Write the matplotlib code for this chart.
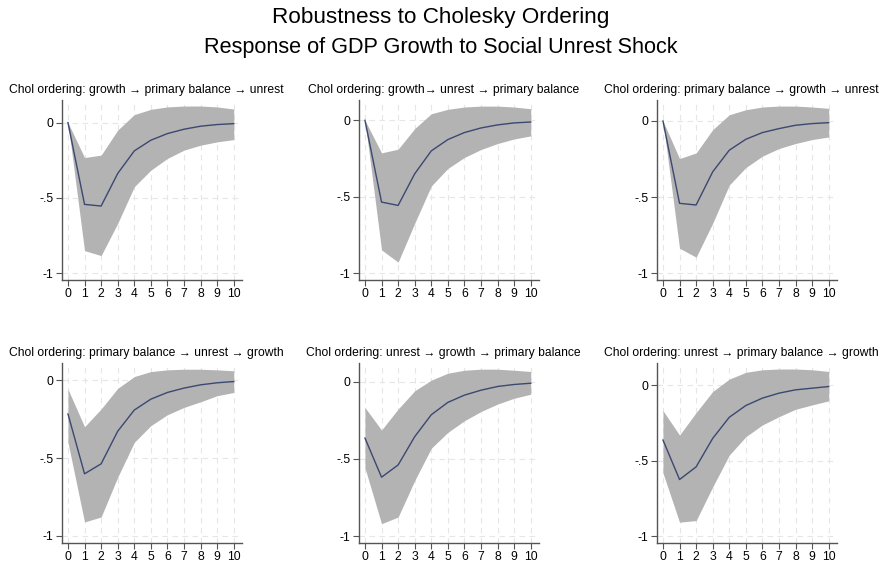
import numpy as np
import matplotlib.pyplot as plt

plt.rcParams['font.family'] = ['Liberation Sans', 'DejaVu Sans']

#%%
# impulse responses, horizons 0..10, point estimate with lower/upper band
steps = np.arange(11)

titles = [
    'Chol ordering: growth \u2192 primary balance \u2192 unrest',
    'Chol ordering: growth\u2192 unrest \u2192 primary balance',
    'Chol ordering: primary balance \u2192 growth \u2192 unrest',
    'Chol ordering: primary balance \u2192 unrest \u2192 growth',
    'Chol ordering: unrest \u2192 growth \u2192 primary balance',
    'Chol ordering: unrest \u2192 primary balance \u2192 growth',
]

irf_1 = [0, -0.543, -0.554, -0.338, -0.188, -0.117, -0.073, -0.044, -0.024, -0.013, -0.007]
lo_1 = [0, -0.850, -0.883, -0.669, -0.426, -0.316, -0.238, -0.183, -0.150, -0.128, -0.113]
hi_1 = [0, -0.232, -0.216, -0.050, 0.053, 0.088, 0.104, 0.110, 0.110, 0.104, 0.090]

irf_2 = [0, -0.535, -0.557, -0.350, -0.200, -0.126, -0.080, -0.050, -0.030, -0.017, -0.011]
lo_2 = [0, -0.848, -0.928, -0.674, -0.430, -0.315, -0.243, -0.191, -0.152, -0.122, -0.102]
hi_2 = [0, -0.213, -0.189, -0.054, 0.043, 0.072, 0.087, 0.093, 0.093, 0.087, 0.076]

irf_3 = [0, -0.541, -0.552, -0.334, -0.192, -0.120, -0.076, -0.050, -0.028, -0.017, -0.011]
lo_3 = [0, -0.836, -0.895, -0.672, -0.421, -0.306, -0.231, -0.181, -0.148, -0.122, -0.105]
hi_3 = [0, -0.247, -0.210, -0.057, 0.041, 0.074, 0.092, 0.098, 0.098, 0.092, 0.083]

irf_4 = [-0.217, -0.601, -0.537, -0.328, -0.192, -0.122, -0.079, -0.051, -0.030, -0.017, -0.009]
lo_4 = [-0.399, -0.910, -0.878, -0.623, -0.399, -0.292, -0.222, -0.175, -0.139, -0.100, -0.079]
hi_4 = [-0.058, -0.299, -0.185, -0.053, 0.023, 0.055, 0.066, 0.070, 0.070, 0.066, 0.060]

irf_5 = [-0.366, -0.619, -0.540, -0.357, -0.215, -0.135, -0.088, -0.056, -0.032, -0.019, -0.011]
lo_5 = [-0.559, -0.920, -0.877, -0.641, -0.432, -0.329, -0.254, -0.194, -0.146, -0.108, -0.082]
hi_5 = [-0.168, -0.314, -0.178, -0.060, 0.009, 0.054, 0.073, 0.080, 0.080, 0.073, 0.065]

irf_6 = [-0.362, -0.624, -0.540, -0.351, -0.211, -0.133, -0.084, -0.051, -0.029, -0.018, -0.007]
lo_6 = [-0.580, -0.907, -0.896, -0.673, -0.462, -0.340, -0.262, -0.207, -0.158, -0.129, -0.102]
hi_6 = [-0.167, -0.329, -0.180, -0.040, 0.042, 0.087, 0.104, 0.109, 0.109, 0.104, 0.093]

irfs = [irf_1, irf_2, irf_3, irf_4, irf_5, irf_6]
los = [lo_1, lo_2, lo_3, lo_4, lo_5, lo_6]
his = [hi_1, hi_2, hi_3, hi_4, hi_5, hi_6]

#%%
W, H = 881, 564
fig = plt.figure(figsize=(W/100, H/100), dpi=100)

# panel boxes in pixels: left, top, width, height
lefts = [62, 359, 657]
tops = [100, 363]
aw, ah = 180, 180

fig.text(0.5, 1-18/H, 'Robustness to Cholesky Ordering', ha='center', va='center', fontsize=16.2)
fig.text(0.5, 1-47/H, 'Response of GDP Growth to Social Unrest Shock', ha='center', va='center', fontsize=15.6)

for k in range(6):
    r, c = k//3, k % 3
    ax = fig.add_axes([lefts[c]/W, 1-(tops[r]+ah)/H, aw/W, ah/H])
    ax.fill_between(steps, los[k], his[k], color='#b3b3b3', linewidth=0, zorder=2)
    ax.plot(steps, irfs[k], color='#3b4870', linewidth=1.0, zorder=3)

    ax.set_xlim(-0.36, 10.5)
    ax.set_ylim(-1.045, max(his[k])+0.04)
    ax.set_xticks(steps)
    ax.set_yticks([0, -0.5, -1])
    ax.set_yticklabels(['0', '-.5', '-1'])
    ax.grid(True, color='#e6e6e6', linestyle=(0, (5, 4)), linewidth=0.8, zorder=0)
    ax.set_axisbelow(True)
    for s in ['top', 'right']:
        ax.spines[s].set_visible(False)
    for s in ['left', 'bottom']:
        ax.spines[s].set_color('#555555')
        ax.spines[s].set_linewidth(1.0)
    ax.tick_params(length=4, width=0.8, color='#555555', labelsize=8.7, pad=2)

    ax.text(0.47, 1+4/ah, titles[k], transform=ax.transAxes, ha='center', va='bottom', fontsize=8.7)

fig.savefig('out.png', dpi=100)
